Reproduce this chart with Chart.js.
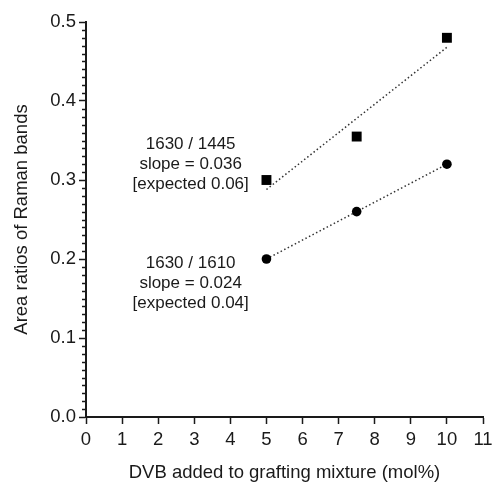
<!DOCTYPE html>
<html>
<head>
<meta charset="utf-8">
<script src="https://cdn.jsdelivr.net/npm/chart.js@4"></script>
<style>
  html, body { margin: 0; padding: 0; background: #fff; }
  #wrap { width: 492px; height: 486px; }
</style>
</head>
<body>
<div id="wrap"><canvas id="chart" width="492" height="486"></canvas></div>
<script>
// measured points
const dvb = [5, 7.5, 10];
const ratio1445 = [0.30, 0.355, 0.48];
const ratio1610 = [0.20, 0.26, 0.32];

// fit line ends
const fitX = [5, 10];
const fit1445 = [0.288, 0.468];
const fit1610 = [0.20, 0.32];

const xTicks = [0, 1, 2, 3, 4, 5, 6, 7, 8, 9, 10, 11];
const yTicks = [0.0, 0.1, 0.2, 0.3, 0.4, 0.5];

const labels1445 = ['1630 / 1445', 'slope = 0.036', '[expected 0.06]'];
const labels1610 = ['1630 / 1610', 'slope = 0.024', '[expected 0.04]'];

const ink = '#1a1a1a';
const family = 'Liberation Sans, Arial, sans-serif';
const font = { family: family, size: 18.5 };

function pts(xs, ys) {
    return xs.map((x, i) => ({ x: x, y: ys[i] }));
}

// minor ticks on the y axis + the two text blocks
const extras = {
    id: 'extras',
    afterDraw(chart) {
        const ctx = chart.ctx;
        const xs = chart.scales.x;
        const ys = chart.scales.y;
        ctx.save();
        ctx.strokeStyle = ink;
        ctx.lineWidth = 1.5;
        for (let i = 1; i < 50; i++) {
            if (i % 10 === 0) continue;
            const py = Math.round(ys.getPixelForValue(i / 100)) + 0.5;
            ctx.beginPath();
            ctx.moveTo(xs.left - 4, py);
            ctx.lineTo(xs.left, py);
            ctx.stroke();
        }
        ctx.fillStyle = ink;
        ctx.font = '17px ' + family;
        ctx.textAlign = 'center';
        ctx.textBaseline = 'middle';
        const cx = xs.getPixelForValue(2.9);
        const blocks = [[labels1445, 0.3455], [labels1610, 0.1945]];
        blocks.forEach(([lines, yv]) => {
            const top = ys.getPixelForValue(yv);
            lines.forEach((t, i) => ctx.fillText(t, cx, top + i * 20));
        });
        ctx.restore();
    }
};

new Chart(document.getElementById('chart').getContext('2d'), {
    type: 'scatter',
    data: {
        datasets: [
            {
                data: pts(dvb, ratio1445),
                pointStyle: 'rect',
                pointRadius: 7,
                backgroundColor: '#000',
                borderWidth: 0,
                order: 1
            },
            {
                data: pts(dvb, ratio1610),
                pointStyle: 'circle',
                pointRadius: 4.8,
                backgroundColor: '#000',
                borderWidth: 0,
                order: 1
            },
            {
                type: 'line',
                data: pts(fitX, fit1445),
                borderColor: '#333',
                borderWidth: 1.5,
                borderDash: [1.5, 2.5],
                pointRadius: 0,
                fill: false,
                order: 2
            },
            {
                type: 'line',
                data: pts(fitX, fit1610),
                borderColor: '#333',
                borderWidth: 1.5,
                borderDash: [1.5, 2.5],
                pointRadius: 0,
                fill: false,
                order: 2
            }
        ]
    },
    options: {
        responsive: false,
        animation: false,
        layout: { padding: { top: 22, right: 9, left: 0, bottom: 0 } },
        plugins: { legend: { display: false }, tooltip: { enabled: false } },
        scales: {
            x: {
                type: 'linear',
                min: 0,
                max: 11,
                afterBuildTicks: (axis) => { axis.ticks = xTicks.map(v => ({ value: v })); },
                afterFit: (axis) => { axis.height = 69; axis.paddingLeft = 0; axis.paddingRight = 0; },
                ticks: { color: ink, font: font, padding: 5, callback: v => String(v) },
                grid: { drawOnChartArea: false, tickLength: 7, tickWidth: 1.5, tickColor: ink },
                border: { color: ink, width: 2 },
                title: { display: true, text: 'DVB added to grafting mixture (mol%)', color: ink, font: font, padding: { top: 2, bottom: 2 } }
            },
            y: {
                min: 0,
                max: 0.5,
                afterBuildTicks: (axis) => { axis.ticks = yTicks.map(v => ({ value: v })); },
                afterFit: (axis) => { axis.width = 86; axis.paddingTop = 0; axis.paddingBottom = 0; },
                ticks: { color: ink, font: font, padding: 3, callback: v => v.toFixed(1) },
                grid: { drawOnChartArea: false, tickLength: 7, tickWidth: 1.5, tickColor: ink },
                border: { color: ink, width: 2 },
                title: { display: true, text: 'Area ratios of Raman bands', color: ink, font: font, padding: { top: 11, bottom: 11 } }
            }
        }
    },
    plugins: [extras]
});
</script>
</body>
</html>
